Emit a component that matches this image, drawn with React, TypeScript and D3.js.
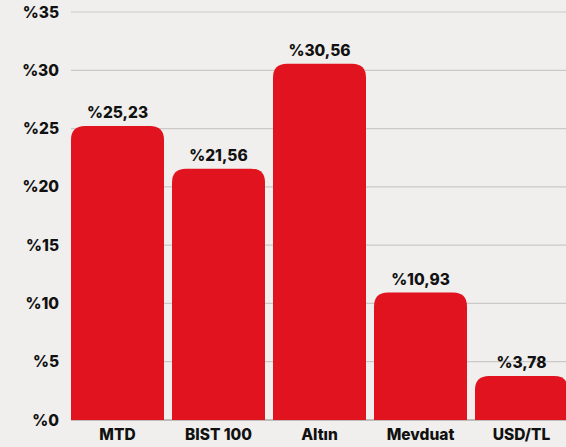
import React from "react";
import * as d3 from "d3";

const categories = ["MTD", "BIST 100", "Altın", "Mevduat", "USD/TL"];
const values = [25.23, 21.56, 30.56, 10.93, 3.78];
const valueLabels = ["%25,23", "%21,56", "%30,56", "%10,93", "%3,78"];
const yTicks = [0, 5, 10, 15, 20, 25, 30, 35];

const W = 566;
const H = 447;
const RED = "#e0131e";
const FONT = "Inter, 'Noto Sans', sans-serif";

function topRoundedRect(x: number, y: number, w: number, h: number, r: number) {
  const rr = Math.min(r, h, w / 2);
  return `M${x},${y + h}V${y + rr}Q${x},${y} ${x + rr},${y}H${x + w - rr}Q${x + w},${y} ${x + w},${y + rr}V${y + h}Z`;
}

export default function App() {
  const x = d3.scaleBand<string>().domain(categories).range([71, 568]).paddingInner(8 / 101).paddingOuter(0);
  const y = d3.scaleLinear().domain([0, 35]).range([420, 12]);
  const fs = 15.5;
  return (
    <svg width={W} height={H} style={{ position: "absolute", left: 0, top: 0, background: "#f0efed" }}>
      <rect x={0} y={0} width={W} height={H} fill="#f0efed" />
      {yTicks.map((t) => (
        <g key={t}>
          <line x1={71} x2={W} y1={y(t)} y2={y(t)} stroke={t === 0 ? "#8a8a8a" : "#c9c9c9"} strokeWidth={1.2} />
          <text x={59} y={y(t) + 5.5} textAnchor="end" fontFamily={FONT} fontWeight={800} fontSize={fs} fill="#111">
            {"%" + t}
          </text>
        </g>
      ))}
      {categories.map((c, i) => {
        const bx = x(c)!;
        const bw = x.bandwidth();
        const by = y(values[i]);
        return (
          <g key={c}>
            <path d={topRoundedRect(bx, by, bw, y(0) - by, 14)} fill={RED} />
            <text x={bx + bw / 2} y={by - 8} textAnchor="middle" fontFamily={FONT} fontWeight={800} fontSize={fs} fill="#111">
              {valueLabels[i]}
            </text>
            <text x={bx + bw / 2} y={440} textAnchor="middle" fontFamily={FONT} fontWeight={800} fontSize={fs} fill="#111">
              {c}
            </text>
          </g>
        );
      })}
    </svg>
  );
}
